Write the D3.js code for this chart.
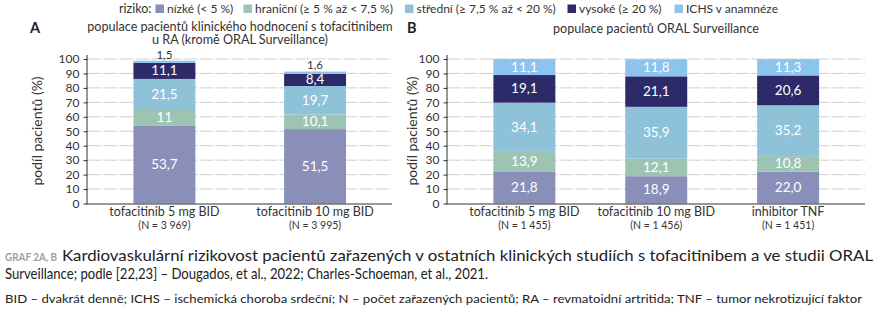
<!DOCTYPE html>
<html><head><meta charset="utf-8">
<script src="https://cdn.jsdelivr.net/npm/d3@7"></script>
<style>
body{margin:0;background:#fff;}
svg{display:block;font-family:Lato,"Noto Sans",sans-serif;}
</style></head><body>
<svg id="c" width="880" height="331"></svg>
<script>
// ---------- data ----------
const seriesNames = ["nízké (< 5 %)", "hraniční (≥ 5 % až < 7,5 %)", "střední (≥ 7,5 % až < 20 %)", "vysoké (≥ 20 %)", "ICHS v anamnéze"];
const seriesColors = ["#8a8fb9", "#9dc4b3", "#8dc2d9", "#2d2a6a", "#8cc4ee"];

const catsA = ["tofacitinib 5 mg BID", "tofacitinib 10 mg BID"];
const nA = ["(N = 3 969)", "(N = 3 995)"];
const lowA = ["53.7", "51.5"];
const borderA = ["11", "10.1"];
const mediumA = ["21.5", "19.7"];
const highA = ["11.1", "8.4"];
const ichsA = ["1.5", "1.6"];

const catsB = ["tofacitinib 5 mg BID", "tofacitinib 10 mg BID", "inhibitor TNF"];
const nB = ["(N = 1 455)", "(N = 1 456)", "(N = 1 451)"];
const lowB = ["21.8", "18.9", "22.0"];
const borderB = ["13.9", "12.1", "10.8"];
const mediumB = ["34.1", "35.9", "35.2"];
const highB = ["19.1", "21.1", "20.6"];
const ichsB = ["11.1", "11.8", "11.3"];

const yTicks = [0,10,20,30,40,50,60,70,80,90,100];

// ---------- drawing ----------
const svg = d3.select("#c");
const y = d3.scaleLinear().domain([0,100]).range([203.5, 59]);

function panel(cfg){
  const {cats, ns, series, x0, x1, pIn, pOut, ylabX, smallTop} = cfg;
  const x = d3.scaleBand().domain(cats).range([x0, x1]).paddingInner(pIn).paddingOuter(pOut);
  const g = svg.append("g");
  // grid
  g.selectAll("line.grid").data(yTicks.filter(d=>d>0)).join("line")
    .attr("x1", x0).attr("x2", x1).attr("y1", d=>y(d)).attr("y2", d=>y(d))
    .attr("stroke", "#cfcfcf").attr("stroke-width", 1).attr("stroke-dasharray", "14,2");
  // stacks
  const rows = cats.map((c,i)=>{ const o={cat:c}; series.forEach((s,k)=>o["s"+k]=+s[i]); return o; });
  const keys = series.map((s,k)=>"s"+k);
  const stacked = d3.stack().keys(keys)(rows);
  stacked.forEach((layer,k)=>{
    g.selectAll(null).data(layer).join("rect")
      .attr("x", d=>x(d.data.cat)).attr("width", x.bandwidth())
      .attr("y", d=>y(d[1])).attr("height", d=>y(d[0])-y(d[1]))
      .attr("fill", seriesColors[k]);
    const top = smallTop && k===4;
    g.selectAll(null).data(layer.map((d,i)=>({d, i}))).join("text")
      .attr("x", o=>x(o.d.data.cat)+x.bandwidth()/2)
      .attr("y", o=> top ? y(o.d[1]) - 2.2 : (y(o.d[0])+y(o.d[1]))/2 + 4.5)
      .attr("text-anchor","middle")
      .attr("font-size", top ? 11.5 : 13.5)
      .attr("fill", top ? "#333" : "#fff")
      .text(o=>series[k][o.i].replace(".", ","));
  });
  // y axis
  const ya = g.append("g").attr("transform", `translate(${x0},0)`)
    .call(d3.axisLeft(y).tickValues(yTicks).tickSize(4).tickPadding(4));
  ya.select(".domain").attr("stroke","#333").attr("d", `M-0.5,${y(0)}V${y(100)-4}`);
  ya.selectAll(".tick line").attr("stroke","#333");
  ya.selectAll("text").attr("font-size", 12).attr("fill","#333").attr("font-family","Lato, sans-serif");
  // x axis baseline
  g.append("line").attr("x1", x0-1).attr("x2", x1).attr("y1", y(0)+0.5).attr("y2", y(0)+0.5)
    .attr("stroke","#333").attr("stroke-width",1.2);
  // x labels
  g.selectAll(null).data(cats).join("text")
    .attr("x", d=>x(d)+x.bandwidth()/2).attr("y", 215.5)
    .attr("text-anchor","middle").attr("font-size", 12.5).attr("fill","#333").text(d=>d);
  g.selectAll(null).data(ns).join("text")
    .attr("x", (d,i)=>x(cats[i])+x.bandwidth()/2).attr("y", 229)
    .attr("text-anchor","middle").attr("font-size", 10.5).attr("fill","#333").text(d=>d);
  // y label
  g.append("text").attr("transform", `translate(${ylabX},131) rotate(-90)`)
    .attr("text-anchor","middle").attr("font-size", 14).attr("fill","#333").text("podíl pacientů (%)");
}

panel({cats:catsA, ns:nA, series:[lowA,borderA,mediumA,highA,ichsA], x0:87.5, x1:392, pIn:0.589, pOut:0.305, ylabX:42, smallTop:true});
panel({cats:catsB, ns:nB, series:[lowB,borderB,mediumB,highB,ichsB], x0:447.5, x1:865, pIn:0.53, pOut:0.348, ylabX:417, smallTop:false});

// panel letters and titles
svg.append("text").attr("x", 30).attr("y", 33).attr("font-size", 14.5).attr("font-weight","bold").attr("fill","#222").text("A");
svg.append("text").attr("x", 407).attr("y", 33).attr("font-size", 14.5).attr("font-weight","bold").attr("fill","#222").text("B");
svg.append("text").attr("x", 240).attr("y", 30.5).attr("text-anchor","middle").attr("font-size", 12.6).attr("fill","#333")
  .text("populace pacientů klinického hodnocení s tofacitinibem");
svg.append("text").attr("x", 240).attr("y", 44).attr("text-anchor","middle").attr("font-size", 12.6).attr("fill","#333")
  .text("u RA (kromě ORAL Surveillance)");
svg.append("text").attr("x", 656).attr("y", 33).attr("text-anchor","middle").attr("font-size", 12.6).attr("fill","#333")
  .text("populace pacientů ORAL Surveillance");

// legend
const legX = [155.5, 243.5, 405, 567.5, 674.5];
svg.append("text").attr("x", 119).attr("y", 13).attr("font-size", 12.5).attr("fill","#333").text("riziko:");
const lg = svg.selectAll("g.leg").data(seriesNames).join("g").attr("class","leg");
lg.append("rect").attr("x",(d,i)=>legX[i]).attr("y",4.5).attr("width",8.5).attr("height",8.5).attr("fill",(d,i)=>seriesColors[i]);
lg.append("text").attr("x",(d,i)=>legX[i]+11.5).attr("y",13).attr("font-size",12).attr("fill","#333").text(d=>d);

// caption
const cap = svg.append("g").attr("font-family","'Liberation Sans Narrow',Lato,sans-serif");
cap.append("text").attr("x",5).attr("y",260.5).attr("font-size",10.5).attr("font-weight","bold").attr("fill","#a0a0a0")
  .attr("textLength",52).attr("lengthAdjust","spacingAndGlyphs").text("GRAF 2A, B");
cap.append("text").attr("x",62).attr("y",260.5).attr("font-size",15).attr("fill","#222")
  .attr("textLength",811).attr("lengthAdjust","spacingAndGlyphs")
  .text("Kardiovaskulární rizikovost pacientů zařazených v ostatních klinických studiích s tofacitinibem a ve studii ORAL");
cap.append("text").attr("x",5).attr("y",278.5).attr("font-size",15).attr("fill","#222")
  .attr("textLength",483).attr("lengthAdjust","spacingAndGlyphs")
  .text("Surveillance; podle [22,23] – Dougados, et al., 2022; Charles-Schoeman, et al., 2021.");
cap.append("text").attr("x",5).attr("y",302.5).attr("font-size",12).attr("fill","#222")
  .attr("textLength",857).attr("lengthAdjust","spacingAndGlyphs")
  .text("BID – dvakrát denně; ICHS – ischemická choroba srdeční; N – počet zařazených pacientů; RA – revmatoidní artritida; TNF – tumor nekrotizující faktor");
</script>
</body></html>
